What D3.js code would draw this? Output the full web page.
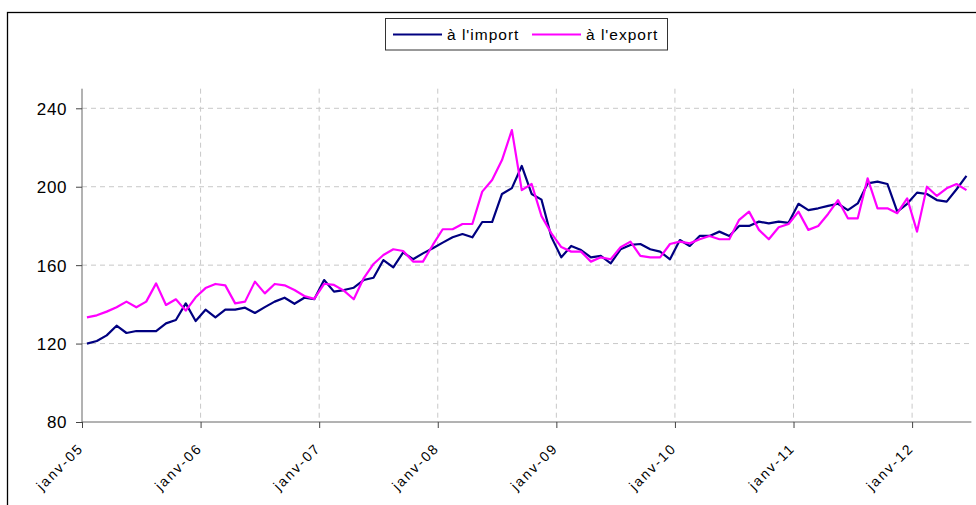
<!DOCTYPE html>
<html><head><meta charset="utf-8">
<script src="https://cdn.jsdelivr.net/npm/d3@7"></script>
<style>
body{margin:0;background:#fff;}
svg{display:block;font-family:"Liberation Sans",Arial,sans-serif;}
</style></head>
<body><svg id="c" width="976" height="505"></svg>
<script>
// ---- data ----
const monthNames = ["janv","févr","mars","avr","mai","juin","juil","août","sept","oct","nov","déc"];
const years = ["05","06","07","08","09","10","11","12"];
const categories = [];
years.forEach(y => monthNames.forEach(m => categories.push(m + "-" + y)));
categories.length = 90; // janv-05 .. juin-12

const tickLabels = ["janv-05","janv-06","janv-07","janv-08","janv-09","janv-10","janv-11","janv-12"];
const yTicks = [80,120,160,200,240];
const seriesNames = ["à l'import","à l'export"];

const importVals = [
 120,121.3,124.2,129.1,125.4,126.4,126.4,126.4,130.3,132,140.5,131.5,
 137.3,133.4,137.3,137.3,138.3,135.6,138.6,141.4,143.4,140.3,143.4,142.6,
 152.4,146.5,147.3,148.5,152.4,153.6,162.6,158.9,166.5,163,166,168.6,
 171.5,174.2,175.9,174.2,182,182,196.3,199.3,210.6,196.3,193.4,174.3,
 164,169.8,167.7,164,164.7,160.9,168.1,170.3,170.8,168.1,166.9,163,
 172.8,169.8,174.9,174.9,177.1,174.9,180,180,182.2,181.3,182.2,181.6,
 191.3,188.1,189,190.2,191.3,188.1,191.5,201.7,202.6,201.4,187.3,191.3,
 197,196.3,193.2,192.4,198.7,205.5];
const exportVals = [
 133.4,134.4,136.3,138.5,141.4,138.5,141.4,150.7,139.7,142.6,136.8,143.6,
 148.3,150.4,149.7,140.5,141.4,151.6,145.6,150.4,149.7,147.3,144.3,142.8,
 150.5,149.9,147,142.6,153.3,160.6,165.2,168.1,167.2,161.8,161.8,170.3,
 178.3,178.3,181,181,197.5,203.4,213.6,228.9,198.3,201.4,185,176.2,
 169.2,166.9,166.9,161.8,164,163,169.1,172,164.7,164,164,170.8,
 172,171.1,173.2,174.9,173.2,173.2,183.1,187.3,178,173.2,179.3,181,
 187.3,178,180,186.1,193.2,183.9,183.9,204.3,189,189,186.5,194.1,
 177.1,200,195.3,199.2,201.4,198.3];
const colors = ["#000080","#ff00ff"];

// ---- chart ----
const svg = d3.select("#c");
const L = 82, R = 971.4, T = 88.7, B = 422;

// outer frame
svg.append("rect").attr("x",7.5).attr("y",12.5).attr("width",1100).attr("height",700)
  .attr("fill","none").attr("stroke","#000").attr("stroke-width",1.3);

const x = d3.scaleLinear().domain([0, categories.length]).range([L, R]);
const y = d3.scaleLinear().domain([80, 250]).range([B, T]);
const janIdx = tickLabels.map((t,i) => i*12);

// grid
const grid = svg.append("g").attr("stroke","#c8c8c8").attr("stroke-dasharray","5,4").attr("stroke-width",1);
grid.selectAll("line.h").data(yTicks.slice(1)).join("line")
  .attr("x1",L).attr("x2",R).attr("y1",d=>y(d)).attr("y2",d=>y(d));
grid.selectAll("line.v").data(janIdx.slice(1)).join("line")
  .attr("x1",d=>x(d)).attr("x2",d=>x(d)).attr("y1",T).attr("y2",B);

// axes
const yAxis = svg.append("g").attr("transform",`translate(${L},0)`)
  .call(d3.axisLeft(y).tickValues(yTicks).tickSize(6).tickPadding(9).tickSizeOuter(0));
yAxis.attr("font-size",null).attr("font-family",null);
yAxis.select(".domain").attr("stroke","#666").attr("d",`M0,${B}V${T}`);
yAxis.selectAll(".tick line").attr("stroke","#444");
yAxis.selectAll("text").style("font-size","17px").attr("fill","#000").attr("letter-spacing","0.6px")
  .attr("dy","0.35em");

const xAxis = svg.append("g").attr("transform",`translate(0,${B})`)
  .call(d3.axisBottom(x).tickValues(janIdx).tickFormat((d,i)=>tickLabels[i]).tickSize(6).tickSizeOuter(0));
xAxis.attr("font-size",null).attr("font-family",null);
xAxis.select(".domain").attr("stroke","#666").attr("d",`M${L},0H${R}`);
xAxis.selectAll(".tick line").attr("stroke","#444");
xAxis.selectAll("text")
  .style("font-size","14px").attr("fill","#000").attr("letter-spacing","2px")
  .attr("text-anchor","end").attr("dy",null).attr("y",null)
  .attr("transform","translate(2,27) rotate(-45)");

// lines
const series = [importVals, exportVals];
const line = d3.line().x((d,i)=>x(i+0.5)).y(d=>y(d));
svg.append("g").selectAll("path").data(series).join("path")
  .attr("d",line).attr("fill","none").attr("stroke",(d,i)=>colors[i])
  .attr("stroke-width",2.2).attr("stroke-linejoin","round");

// legend
const lg = svg.append("g");
lg.append("rect").attr("x",385.5).attr("y",18.5).attr("width",282).attr("height",31.5)
  .attr("fill","#fff").attr("stroke","#333").attr("stroke-width",1);
const legX = [393, 532];
seriesNames.forEach((n,i)=>{
  lg.append("line").attr("x1",legX[i]).attr("x2",legX[i]+49).attr("y1",34.5).attr("y2",34.5)
    .attr("stroke",colors[i]).attr("stroke-width",2);
  lg.append("text").attr("x",legX[i]+54).attr("y",40).style("font-size","15.5px")
    .attr("letter-spacing","1px").text(n);
});
</script></body></html>
